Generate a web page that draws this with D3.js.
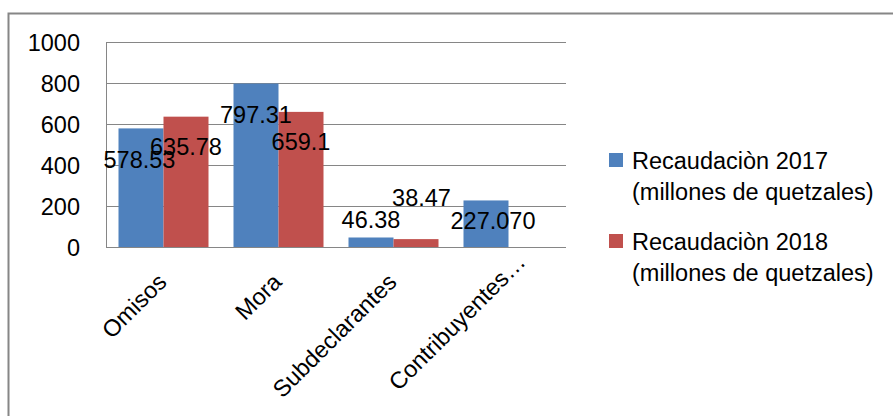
<!DOCTYPE html>
<html><head><meta charset="utf-8">
<script src="https://cdn.jsdelivr.net/npm/d3@7"></script>
<style>body{margin:0;background:#fff}svg{display:block}text{font-family:"Liberation Sans",Arial,sans-serif}</style>
</head><body><svg id="c" width="893" height="416"></svg>
<script>
const categories = ["Omisos", "Mora", "Subdeclarantes", "Contribuyentes…"];
const values2017 = [578.53, 797.31, 46.38, 227.070];
const values2018 = [635.78, 659.1, 38.47, null];
const labels2017 = ["578.53", "797.31", "46.38", "227.070"];
const labels2018 = ["635.78", "659.1", "38.47", ""];
const seriesNames = [["Recaudaciòn 2017", "(millones de quetzales)"], ["Recaudaciòn 2018", "(millones de quetzales)"]];
const yTicks = [0, 200, 400, 600, 800, 1000];
// label placement tweaks (px): baseline offset from bar top, horizontal shift
const labelDy2017 = [40, 39, -9, 29];
const labelDy2018 = [38, 38, -33, 0];
const labelDx2017 = [-1.5, 0, 0, 7];
const labelDx2018 = [0, 0, 5.5, 0];
const colors = ["#4F81BD", "#C0504D"];

const svg = d3.select("#c");
const FS = 23.5;
// outer frame
svg.append("rect").attr("x", 8.5).attr("y", 13.5).attr("width", 1000).attr("height", 1000)
  .attr("fill", "none").attr("stroke", "#868686").attr("stroke-width", 2);

const L = 106, R = 566, T = 42, B = 247;
const x = d3.scaleBand().domain(categories).range([L, R]).paddingInner(0.2174).paddingOuter(0.1087);
const x1 = d3.scaleBand().domain([0, 1]).range([0, x.bandwidth()]);
const y = d3.scaleLinear().domain([0, 1000]).range([B, T]);

// gridlines
svg.append("g").selectAll("line").data(yTicks).join("line")
  .attr("x1", L).attr("x2", R).attr("y1", d => Math.round(y(d)) + 0.5).attr("y2", d => Math.round(y(d)) + 0.5)
  .attr("stroke", "#868686").attr("stroke-width", 1);
// left axis line
svg.append("line").attr("x1", L + 0.5).attr("x2", L + 0.5).attr("y1", T).attr("y2", B + 0.5)
  .attr("stroke", "#868686");

// y tick labels
const yAxis = d3.axisLeft(y).tickValues(yTicks).tickFormat(d3.format("d")).tickSize(0).tickPadding(0);
const ga = svg.append("g").attr("transform", `translate(${L - 26},0)`).call(yAxis);
ga.select(".domain").remove();
ga.selectAll("text").attr("font-size", FS).attr("fill", "#000").attr("font-family", "Liberation Sans, Arial, sans-serif").attr("dy", "0.36em");

// bars
const series = [values2017, values2018];
series.forEach((vals, si) => {
  svg.append("g").selectAll("rect").data(categories.map((c, i) => ({c, v: vals[i]})).filter(d => d.v != null))
    .join("rect")
    .attr("x", d => x(d.c) + x1(si)).attr("width", x1.bandwidth())
    .attr("y", d => y(d.v)).attr("height", d => B - y(d.v))
    .attr("fill", colors[si]);
});
// bottom axis line above bars
svg.append("line").attr("x1", L).attr("x2", R).attr("y1", B + 0.5).attr("y2", B + 0.5).attr("stroke", "#868686");

// data labels
const labelSets = [[labels2017, labelDy2017, labelDx2017], [labels2018, labelDy2018, labelDx2018]];
labelSets.forEach(([labs, dys, dxs], si) => {
  svg.append("g").selectAll("text").data(categories.map((c, i) => ({c, i, v: series[si][i], t: labs[i]})).filter(d => d.v != null))
    .join("text")
    .attr("x", d => x(d.c) + x1(si) + x1.bandwidth() / 2 + dxs[d.i])
    .attr("y", d => y(d.v) + dys[d.i])
    .attr("text-anchor", "middle").attr("font-size", FS).attr("fill", "#000")
    .text(d => d.t);
});

// category labels rotated
svg.append("g").selectAll("text").data(categories).join("text")
  .attr("transform", (d, i) => `translate(${x(d) + x.bandwidth() / 2 + (i === 3 ? 6 : -8)},${i === 3 ? 251 : 271}) rotate(-45)`)
  .attr("text-anchor", "end").attr("dy", "0.75em").attr("font-size", FS).attr("fill", "#000")
  .text(d => d);

// legend
const leg = svg.append("g");
const legY = [153, 234];
seriesNames.forEach((lines, i) => {
  leg.append("rect").attr("x", 609).attr("y", legY[i]).attr("width", 14).attr("height", 14).attr("fill", colors[i]);
  lines.forEach((ln, j) => {
    leg.append("text").attr("x", 632).attr("y", legY[i] + 16 + j * 31).attr("font-size", FS).attr("fill", "#000").text(ln);
  });
});
</script></body></html>
